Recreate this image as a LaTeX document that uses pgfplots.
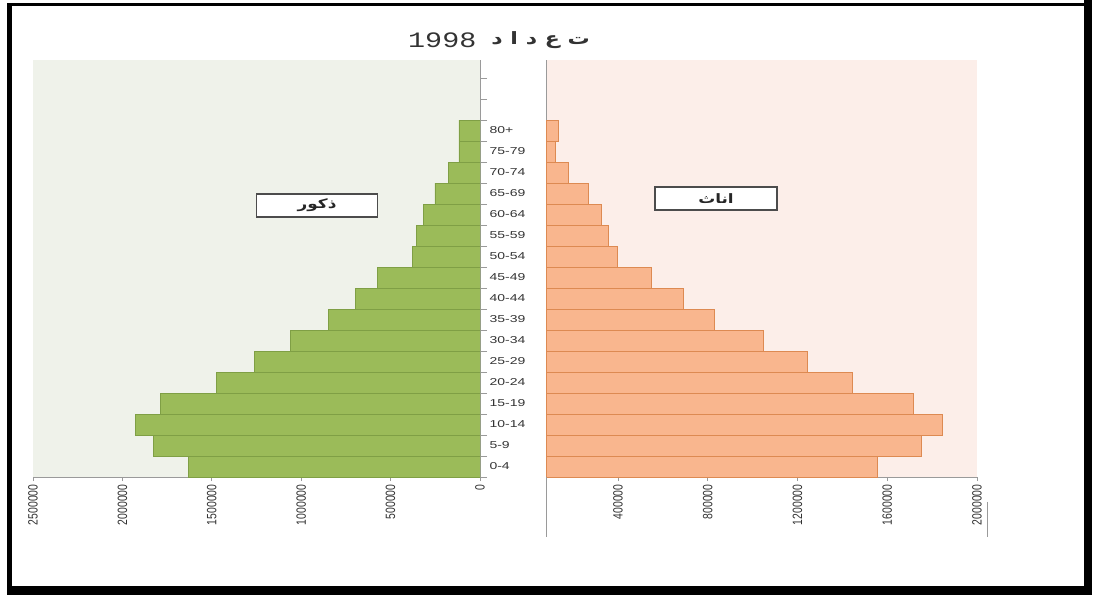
\documentclass[border=0pt]{standalone}
\usepackage{fontspec}
\usepackage{pgfplots}
\pgfplotsset{compat=1.18}
\usepackage{pgfplotstable}
\setmainfont{Liberation Sans}
\TeXXeTstate=1
\newfontfamily\arabicfont[Script=Arabic,FakeStretch=1.3]{DejaVu Sans}
\newfontfamily\titlemono[FakeStretch=1.29]{Liberation Mono}
\newfontfamily\catfont[FakeStretch=1.4]{Liberation Sans}
\newfontfamily\tickfont[FakeStretch=0.77]{Liberation Sans}
\definecolor{gbg}{HTML}{EFF2EA}
\definecolor{gbar}{HTML}{9BBB59}
\definecolor{gedge}{HTML}{7F9F45}
\definecolor{pbg}{HTML}{FCEEE9}
\definecolor{pbar}{HTML}{F9B68E}
\definecolor{pedge}{HTML}{DD8A52}
\definecolor{axgray}{HTML}{9A9A9A}
\definecolor{txt}{HTML}{333333}

\pgfplotstableread{
idx male female
0 1631000 1556000
1 1827000 1753000
2 1928000 1846000
3 1788000 1717000
4 1474000 1445000
5 1261000 1244000
6 1059000 1047000
7 846000 829000
8 698000 690000
9 572000 547000
10 376000 396000
11 353000 355000
12 314000 324000
13 252000 266000
14 174000 177000
15 118000 119000
16 118000 132000
}\pop

\begin{document}
\begin{tikzpicture}[x=1pt,y=1pt]
\path[use as bounding box] (0,0) rectangle (1096,595);
\fill[white] (0,0) rectangle (1096,595);

\begin{axis}[
  at={(33pt,118pt)}, anchor=south west,
  scale only axis, width=447pt, height=417pt,
  xmin=-2500000, xmax=0, ymin=-0.5, ymax=19.36,
  axis background/.style={fill=gbg},
  axis x line*=bottom, axis y line*=right,
  axis line style={axgray, line width=1pt},
  xtick={-2500000,-2000000,-1500000,-1000000,-500000,0},
  xticklabels={2500000,2000000,1500000,1000000,500000,0},
  x tick label style={font=\tickfont\fontsize{13.5}{14}\selectfont, rotate=90, anchor=east, text=txt},
  ytick={0,...,16},
  yticklabels={0-4,5-9,10-14,15-19,20-24,25-29,30-34,35-39,40-44,45-49,50-54,55-59,60-64,65-69,70-74,75-79,80+},
  y tick label style={font=\catfont\fontsize{10}{11}\selectfont, anchor=west, text=txt, xshift=2pt},
  minor ytick={-0.5,0.5,...,18.5},
  major y tick style={draw=none},
  minor y tick style={axgray, line width=0.8pt},
  major x tick style={axgray, line width=0.8pt},
  tick align=outside, major tick length=4pt, minor tick length=7pt,
  scaled x ticks=false,
]
\addplot[xbar, bar width=1, bar shift=0pt, fill=gbar, draw=gedge, line width=0.8pt]
  table[x expr=-\thisrow{male}, y=idx]{\pop};
\end{axis}

\begin{axis}[
  at={(546pt,118pt)}, anchor=south west,
  scale only axis, width=431pt, height=417pt,
  xmin=78600, xmax=2000000, ymin=-0.5, ymax=19.36,
  axis background/.style={fill=pbg},
  axis x line*=bottom, axis y line*=left,
  axis line style={axgray, line width=1pt},
  xtick={400000,800000,1200000,1600000,2000000},
  xticklabels={400000,800000,1200000,1600000,2000000},
  x tick label style={font=\tickfont\fontsize{13.5}{14}\selectfont, rotate=90, anchor=east, text=txt},
  ytick=\empty,
  major x tick style={axgray, line width=0.8pt},
  tick align=outside, major tick length=4pt,
  scaled x ticks=false,
]
\addplot[xbar, bar width=1, bar shift=0pt, fill=pbar, draw=pedge, line width=0.8pt]
  table[x=female, y=idx]{\pop};
\end{axis}

\draw[axgray, line width=1pt] (546,118) -- (546,58);
\draw[axgray, line width=1pt] (987,93) -- (987,58);

\node[draw=black!70, line width=1.5pt, fill=white, minimum width=121pt, minimum height=23pt, inner sep=0pt,
  font=\arabicfont\bfseries\fontsize{13}{14}\selectfont, text=black!85] at (317,389.5) {\beginR ذكور\endR};
\node[draw=black!70, line width=1.5pt, fill=white, minimum width=122pt, minimum height=23pt, inner sep=0pt,
  font=\arabicfont\bfseries\fontsize{13}{14}\selectfont, text=black!85] at (716,396.5) {\beginR اناث\endR};

\node[anchor=west, text=txt, inner sep=0pt] at (408,555) {\titlemono\fontsize{22}{24}\selectfont 1998};
\node[anchor=east, text=txt, inner sep=0pt] at (590,555) {\arabicfont\bfseries\fontsize{17}{20}\selectfont\beginR ت ع د ا د\endR};

\fill[black] (7,0) rectangle (12,592);
\fill[black] (1084,0) rectangle (1092,595);
\fill[black] (7,589) rectangle (1092,592);
\fill[black] (7,0) rectangle (1092,9);
\end{tikzpicture}
\end{document}
